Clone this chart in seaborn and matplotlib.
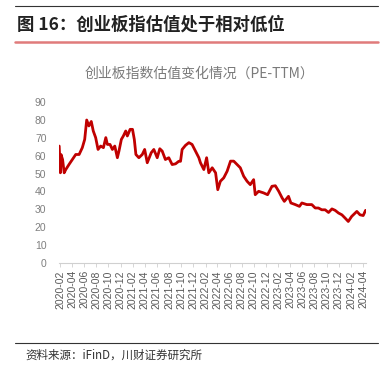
import matplotlib
matplotlib.use("Agg")
import matplotlib.pyplot as plt
from matplotlib.lines import Line2D
import seaborn as sns
import pandas as pd

# ---- data ----
dates = [
    "2020-01-28", "2020-02-03", "2020-02-06", "2020-02-14", "2020-02-22", "2020-03-01",
    "2020-03-17", "2020-04-03", "2020-04-20", "2020-05-07", "2020-05-23", "2020-06-04",
    "2020-06-14", "2020-06-25", "2020-07-07", "2020-07-17", "2020-07-29", "2020-08-10",
    "2020-08-23", "2020-09-06", "2020-09-18", "2020-09-26", "2020-10-09", "2020-10-21",
    "2020-11-02", "2020-11-15", "2020-11-23", "2020-12-05", "2020-12-15", "2020-12-27",
    "2021-01-04", "2021-01-18", "2021-01-30", "2021-02-08", "2021-02-16", "2021-03-03",
    "2021-03-20", "2021-04-01", "2021-04-14", "2021-05-04", "2021-05-17", "2021-06-03",
    "2021-06-16", "2021-06-28", "2021-07-14", "2021-07-31", "2021-08-17", "2021-09-03",
    "2021-09-19", "2021-09-28", "2021-10-06", "2021-10-23", "2021-11-09", "2021-11-25",
    "2021-12-12", "2021-12-29", "2022-01-06", "2022-01-23", "2022-02-06", "2022-02-17",
    "2022-03-06", "2022-03-23", "2022-04-03", "2022-04-16", "2022-05-03", "2022-05-20",
    "2022-06-06", "2022-06-22", "2022-07-09", "2022-07-25", "2022-08-11", "2022-08-28",
    "2022-09-13", "2022-09-30", "2022-10-08", "2022-10-25", "2022-11-19", "2022-12-09",
    "2022-12-31", "2023-01-17", "2023-02-03", "2023-02-20", "2023-03-03", "2023-03-24",
    "2023-04-05", "2023-04-27", "2023-05-18", "2023-05-30", "2023-06-24", "2023-07-19",
    "2023-08-05", "2023-08-21", "2023-09-07", "2023-09-24", "2023-10-11", "2023-10-28",
    "2023-11-13", "2023-11-30", "2023-12-17", "2024-01-02", "2024-01-18", "2024-02-04",
    "2024-03-01", "2024-03-17", "2024-04-02", "2024-04-14",
]
pe_ttm = [
    65.3, 50.4, 60.6, 57.8, 50.4, 52.2,
    55.0, 57.8, 60.6, 60.6, 64.4, 69.0,
    79.8, 76.5, 79.0, 73.7, 70.0, 63.4,
    65.3, 64.4, 70.0, 66.2, 66.2, 63.4,
    65.3, 58.8, 62.5, 69.0, 70.9, 73.7,
    70.9, 74.6, 74.6, 69.0, 60.6, 58.8,
    60.6, 63.4, 56.0, 61.6, 63.4, 58.8,
    63.8, 62.5, 57.8, 58.8, 55.0, 55.4,
    56.8, 56.8, 63.4, 65.7, 67.2, 66.2,
    62.5, 58.8, 56.0, 52.2, 58.8, 50.4,
    53.2, 50.4, 41.0, 45.7, 47.6, 51.3,
    56.9, 56.9, 55.0, 53.2, 48.5, 45.7,
    43.8, 46.6, 38.2, 40.1, 39.2, 38.2,
    42.9, 43.2, 40.1, 36.4, 34.5, 37.3,
    33.6, 32.7, 31.7, 33.6, 32.7, 32.7,
    30.8, 30.8, 29.8, 29.8, 28.3, 30.3,
    29.5, 28.0, 27.0, 25.2, 23.3, 26.1,
    28.9, 27.0, 26.6, 29.5,
]
y_ticks = [0, 10, 20, 30, 40, 50, 60, 70, 80, 90]
x_tick_labels = [
    "2020-02", "2020-04", "2020-06", "2020-08", "2020-10", "2020-12",
    "2021-02", "2021-04", "2021-06", "2021-08", "2021-10", "2021-12",
    "2022-02", "2022-04", "2022-06", "2022-08", "2022-10", "2022-12",
    "2023-02", "2023-04", "2023-06", "2023-08", "2023-10", "2023-12",
    "2024-02", "2024-04",
]
fig_title = "图 16：创业板指估值处于相对低位"
chart_title = "创业板指数估值变化情况（PE-TTM）"
source_text = "资料来源：iFinD，川财证券研究所"

# ---- styling ----
sns.set_theme(style="white")
plt.rcParams["font.family"] = ["Liberation Sans", "Noto Sans CJK SC", "DejaVu Sans"]

W, H = 388, 365
fig = plt.figure(figsize=(W / 100, H / 100), dpi=100)

def fx(px):
    return px / W

def fy(py):
    return 1 - py / H

ax = fig.add_axes([fx(59), fy(263.3), fx(366) - fx(59), (263.3 - 101.7) / H])

df = pd.DataFrame({"date": pd.to_datetime(dates), "pe": pe_ttm})
sns.lineplot(data=df, x="date", y="pe", ax=ax, color="#C00000", linewidth=2.0)

ax.set_ylim(0, 90)
ax.set_yticks(y_ticks)
ax.set_xlim(pd.Timestamp("2020-01-27"), pd.Timestamp("2024-04-16"))
tick_pos = pd.to_datetime([s + "-01" for s in x_tick_labels])
ax.set_xticks(tick_pos)
ax.set_xticklabels(x_tick_labels, rotation=90)
ax.set_xlabel("")
ax.set_ylabel("")

for side in ["left", "right", "top"]:
    ax.spines[side].set_visible(False)
ax.spines["bottom"].set_color("#d0d0d0")
ax.spines["bottom"].set_linewidth(0.8)
ax.tick_params(axis="x", length=3, width=0.6, color="#d0d0d0", labelsize=7.5,
               labelcolor="#595959", pad=2, bottom=True)
ax.tick_params(axis="y", length=0, labelsize=7.5, labelcolor="#7f7f7f", pad=9)
ax.grid(False)

# ---- texts and rules ----
fig.add_artist(Line2D([fx(15), fx(378)], [fy(6), fy(6)], color="#333333", linewidth=0.8))
fig.text(fx(17), fy(24.5), fig_title, fontsize=12.5, fontweight="bold", color="#222222",
         va="center", ha="left", family=["Noto Sans CJK SC", "DejaVu Sans"])
fig.add_artist(Line2D([fx(15), fx(378)], [fy(41.7), fy(41.7)], color="#E07B7B", linewidth=1.8))
fig.text(fx(200), fy(73.5), chart_title, fontsize=10, color="#7a7a7a",
         va="center", ha="center", family=["Noto Sans CJK SC", "DejaVu Sans"])
fig.add_artist(Line2D([fx(15), fx(378)], [fy(343.3), fy(343.3)], color="#333333", linewidth=0.8))
fig.text(fx(25), fy(355), source_text, fontsize=8.3, color="#333333",
         va="center", ha="left", style="italic", family=["Noto Sans CJK SC", "DejaVu Sans"])

fig.savefig("out.png", dpi=100)
